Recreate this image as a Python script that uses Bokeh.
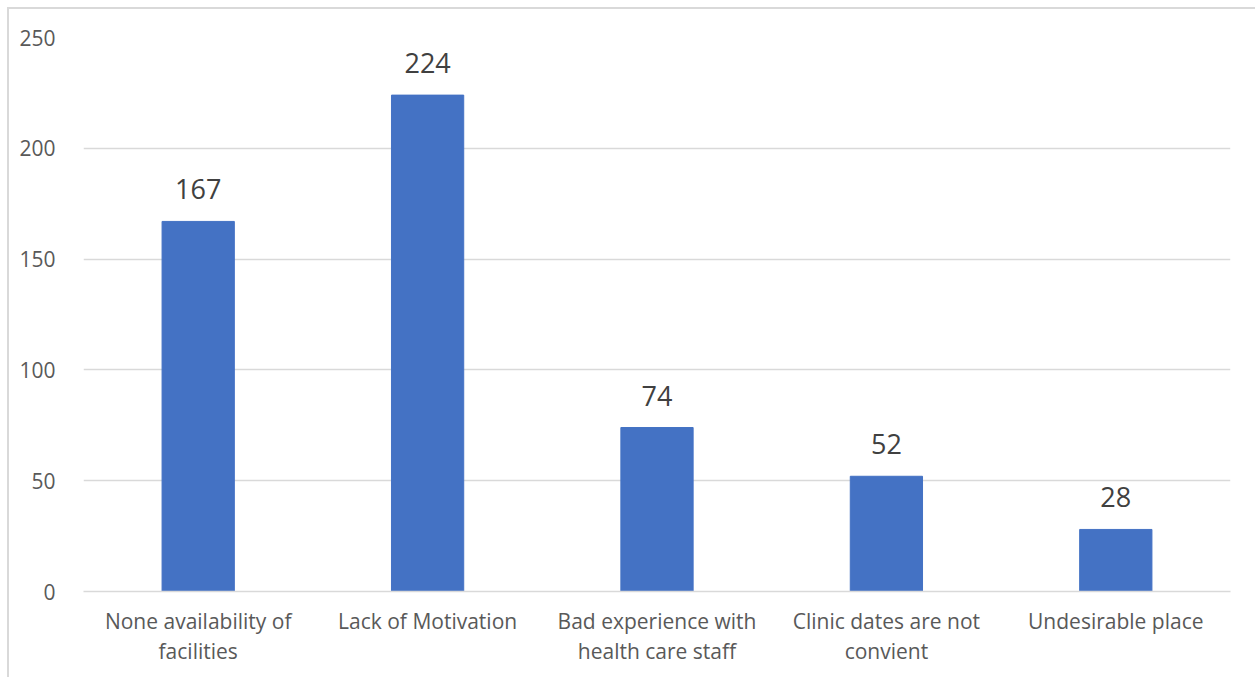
from bokeh.plotting import figure
from bokeh.models import ColumnDataSource, Range1d, FixedTicker
from bokeh.core.properties import value
from bokeh.embed import file_html
from bokeh.resources import INLINE

categories = [
    "None availability of\nfacilities",
    "Lack of Motivation",
    "Bad experience with\nhealth care staff",
    "Clinic dates are not\nconvient",
    "Undesirable place",
]
counts = [167, 224, 74, 52, 28]
y_ticks = [0, 50, 100, 150, 200, 250]

src = ColumnDataSource(dict(cat=categories, val=counts, lab=[str(v) for v in counts]))

FONT = "Open Sans"
GREY = "#595959"

p = figure(
    x_range=categories,
    y_range=Range1d(0, 250),
    width=1248,
    height=670,
    output_backend="svg",
    toolbar_location=None,
    min_border_left=74,
    min_border_right=27,
    min_border_top=28,
    min_border_bottom=88,
)
p.margin = (7, 0, 0, 7)
p.styles = {"border-top": "2px solid #d9d9d9", "border-left": "2px solid #d9d9d9", "box-sizing": "border-box"}
p.outline_line_color = None
p.background_fill_color = "white"
p.border_fill_color = "white"

p.vbar(x="cat", top="val", width=0.315, source=src, color="#4472C4")
p.text(x="cat", y="val", text="lab", source=src, text_align="center",
       text_baseline="alphabetic", y_offset=-32, text_font=value(FONT),
       text_font_size="27px", text_color="#404040")

p.xgrid.grid_line_color = None
p.ygrid.grid_line_color = "#d9d9d9"
p.ygrid.grid_line_width = 1.5
p.yaxis.ticker = FixedTicker(ticks=y_ticks)

p.yaxis.axis_line_color = None
p.yaxis.major_tick_line_color = None
p.yaxis.minor_tick_line_color = None
p.yaxis.major_label_standoff = 22
p.yaxis.major_label_text_font = FONT
p.yaxis.major_label_text_font_size = "21px"
p.yaxis.major_label_text_color = GREY

p.xaxis.axis_line_color = "#d9d9d9"
p.xaxis.axis_line_width = 1.5
p.xaxis.major_tick_line_color = None
p.xaxis.minor_tick_line_color = None
p.xaxis.major_label_standoff = 9
p.xaxis.major_label_text_font = FONT
p.xaxis.major_label_text_font_size = "21px"
p.xaxis.major_label_text_color = GREY
p.xaxis.major_label_text_line_height = 1.1

open("out.html", "w").write(file_html(p, INLINE))
